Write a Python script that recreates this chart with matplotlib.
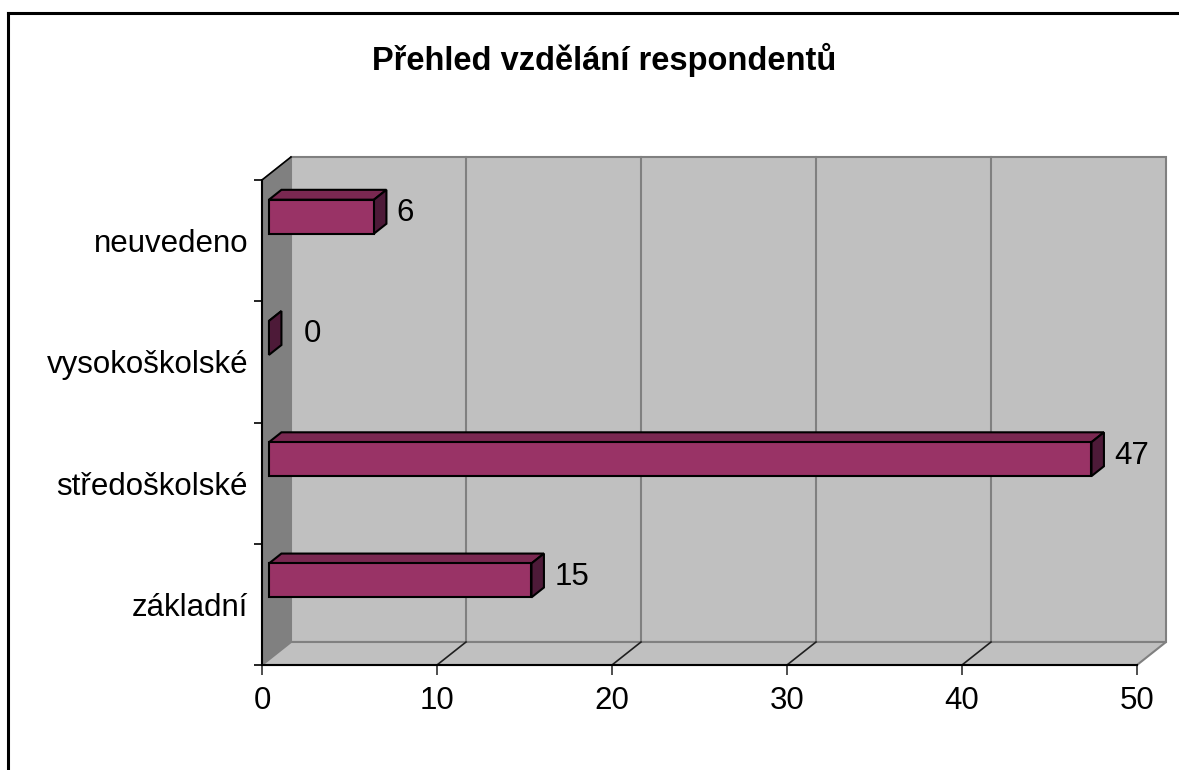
import matplotlib.pyplot as plt
from matplotlib.patches import Polygon, Rectangle
from matplotlib.lines import Line2D

plt.rcParams['font.family'] = ['Liberation Sans', 'DejaVu Sans']

categories = ['základní', 'středoškolské', 'vysokoškolské', 'neuvedeno']
values = [15, 47, 0, 6]
xticks = [0, 10, 20, 30, 40, 50]
title = 'Přehled vzdělání respondentů'

W, H = 1179, 770
fig = plt.figure(figsize=(W / 100, H / 100), dpi=100)
fig.patch.set_facecolor('white')

# front plane of the plot in pixels
x0px, x1px, ytop, ybot = 262, 1137, 180, 665
ax = fig.add_axes([x0px / W, (H - ybot) / H, (x1px - x0px) / W, (ybot - ytop) / H])
ax.set_xlim(0, 50)
ax.set_ylim(0, 4)
ax.set_facecolor('none')

# depth vector of the fake 3d box (data units)
DX = 29 / 17.5
DY = 23 / 121.25

# back wall, side wall, floor
ax.add_patch(Polygon([(DX, DY), (50 + DX, DY), (50 + DX, 4 + DY), (DX, 4 + DY)],
                     closed=True, fc='#c0c0c0', ec='#808080', lw=1.5, clip_on=False, zorder=0))
ax.add_patch(Polygon([(0, 0), (DX, DY), (DX, 4 + DY), (0, 4)],
                     closed=True, fc='#808080', ec='#808080', lw=1, clip_on=False, zorder=0))
ax.add_patch(Polygon([(0, 0), (50, 0), (50 + DX, DY), (DX, DY)],
                     closed=True, fc='#c0c0c0', ec='#808080', lw=1.5, clip_on=False, zorder=0))
for t in xticks[1:-1]:
    ax.plot([t + DX, t + DX], [DY, 4 + DY], color='#808080', lw=1.5, clip_on=False, zorder=1)
    ax.plot([t, t + DX], [0, DY], color='#202020', lw=1.2, clip_on=False, zorder=1)
ax.plot([0, DX], [4, 4 + DY], color='black', lw=1.2, clip_on=False, zorder=1)

# bars
d0, d1 = 0.24, 0.67
b0, bh = 0.512, 0.28
ddx, ddy = (d1 - d0) * DX, (d1 - d0) * DY
for i, v in enumerate(values):
    xa = d0 * DX
    xb = v + d0 * DX
    yb = i + b0 + d0 * DY
    yt = yb + bh
    ax.add_patch(Polygon([(xa, yt), (xb, yt), (xb + ddx, yt + ddy), (xa + ddx, yt + ddy)],
                         closed=True, fc='#7a2851', ec='black', lw=1.5, zorder=3, clip_on=False))
    ax.add_patch(Polygon([(xb, yb), (xb, yt), (xb + ddx, yt + ddy), (xb + ddx, yb + ddy)],
                         closed=True, fc='#4d1a38', ec='black', lw=1.5, zorder=3, clip_on=False))
    if v > 0:
        ax.add_patch(Rectangle((xa, yb), v, bh, fc='#993366', ec='black', lw=1.5, zorder=4,
                               clip_on=False))
    off = 1.3 if v > 0 else 2.0
    ax.text(xb + off, yb + bh / 2 + 0.03, str(v), ha='left', va='center', fontsize=22.5,
            zorder=5)

# axes
for s in ['top', 'right']:
    ax.spines[s].set_visible(False)
for s in ['left', 'bottom']:
    ax.spines[s].set_color('black')
    ax.spines[s].set_linewidth(1.5)

ax.set_xticks(xticks)
ax.set_xticklabels([str(t) for t in xticks], fontsize=22.5)
ax.tick_params(axis='x', length=7, width=1.2, pad=8, color='#303030')

ax.set_yticks([i + 0.5 for i in range(len(categories))])
ax.set_yticklabels(categories, fontsize=22.5)
ax.set_yticks(range(len(categories) + 1), minor=True)
ax.tick_params(axis='y', which='major', length=0, pad=10)
ax.tick_params(axis='y', which='minor', length=6, width=1.2)

fig.text(604 / W, 1 - 60 / H, title, ha='center', va='center', fontsize=23.5, fontweight='bold')

# outer chart border (top and left edges only, the rest lies outside the image)
fig.add_artist(Line2D([8 / W, 1.0], [1 - 13 / H, 1 - 13 / H], transform=fig.transFigure,
                      color='black', lw=2.2))
fig.add_artist(Line2D([8 / W, 8 / W], [0.0, 1 - 13 / H], transform=fig.transFigure,
                      color='black', lw=2.2))

fig.savefig('out.png', dpi=100)
